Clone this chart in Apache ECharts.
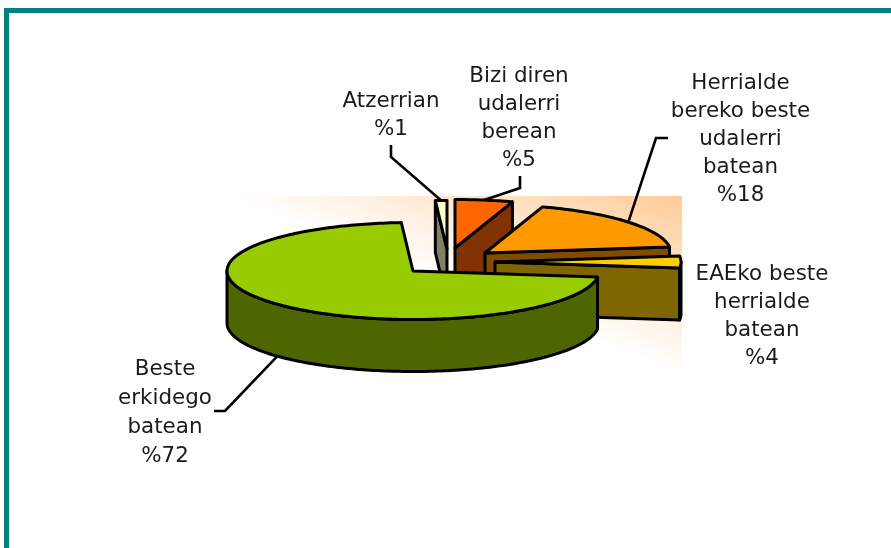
<!DOCTYPE html>
<html>
<head>
<meta charset="utf-8">
<style>html,body{margin:0;padding:0;background:#fff}#c{width:891px;height:548px}</style>
<script src="https://cdn.jsdelivr.net/npm/echarts@6/dist/echarts.min.js"></script>
</head>
<body>
<div id="c"></div>
<script>
// Data
const categories = ['Bizi diren\nudalerri\nberean', 'Herrialde\nbereko beste\nudalerri\nbatean', 'EAEko beste\nherrialde\nbatean', 'Beste\nerkidego\nbatean', 'Atzerrian'];
const values = [5, 18, 4, 72, 1];

// Styling
const topColors  = ['#FF6600', '#FF9900', '#FFCC00', '#99CC00', '#FFFFCC'];
const sideColors = ['#803300', '#804D00', '#806600', '#4D6600', '#808066'];

// Layout of the projected pie
const centre = [450, 262], rx = 186, ry = 48.5, depth = 52;
const explode = [[5, -14], [35, -9], [45, 0], [-37, 9], [-3, -13]];
const labelPos = [[519, 119, 28], [740.5, 140, 28], [762, 316.5, 27.7], [165, 413, 28.7], [391, 116, 28]];
const leaderElbows = [
  [[520, 176], [520, 188]],
  [[668, 138], [656, 138]],
  null,
  [[214, 411], [225, 411]],
  [[391, 145], [391, 157]]
];

const total = values.reduce((a, b) => a + b, 0);
const starts = [];
values.reduce((acc, v, i) => { starts[i] = acc; return acc + v; }, 0);
const rad = v => v / total * 2 * Math.PI;

function pt(apex, a, dz) {
  return [apex[0] + rx * Math.sin(a), apex[1] - ry * Math.cos(a) + (dz || 0)];
}
function arc(apex, a0, a1, dz) {
  const n = Math.max(2, Math.ceil(Math.abs(a1 - a0) / 0.02));
  const out = [];
  for (let k = 0; k <= n; k++) out.push(pt(apex, a0 + (a1 - a0) * k / n, dz));
  return out;
}
const edge = { stroke: '#000', lineWidth: 3, lineJoin: 'round' };
function poly(points, fill) {
  return { type: 'polygon', shape: { points }, style: Object.assign({ fill }, edge) };
}

function renderItem(params, api) {
  const i = api.value(0);
  const a0 = rad(starts[i]), a1 = rad(starts[i] + values[i]), mid = (a0 + a1) / 2;
  const apex = [centre[0] + explode[i][0], centre[1] + explode[i][1]];
  const low = [apex[0], apex[1] + depth];
  const children = [];

  // Cut faces that turn toward the viewer
  if (Math.sin(a0) < -1e-6) {
    const p = pt(apex, a0);
    children.push(poly([apex, p, [p[0], p[1] + depth], low], sideColors[i]));
  }
  if (Math.sin(a1) > 1e-6) {
    const p = pt(apex, a1);
    children.push(poly([apex, p, [p[0], p[1] + depth], low], sideColors[i]));
  }
  // Outer wall: only the front half of the rim
  const w0 = Math.max(a0, Math.PI / 2), w1 = Math.min(a1, 3 * Math.PI / 2);
  if (w1 > w0) {
    children.push(poly(arc(apex, w0, w1, 0).concat(arc(apex, w1, w0, depth)), sideColors[i]));
  }
  // Top face
  children.push(poly([apex].concat(arc(apex, a0, a1, 0)), topColors[i]));

  // Leader line, ending on the slice rim at its bisector
  if (leaderElbows[i]) {
    const front = Math.cos(mid) < 0;
    children.push({
      type: 'polyline',
      shape: { points: leaderElbows[i].concat([pt(apex, mid, front ? depth : 0)]) },
      style: { fill: null, stroke: '#000', lineWidth: 2.6, lineJoin: 'miter' }
    });
  }
  // Label
  children.push({
    type: 'text',
    x: labelPos[i][0], y: labelPos[i][1],
    scaleX: 1.02,
    style: {
      text: categories[i] + '\n%' + values[i],
      x: 0, y: 0,
      align: 'center', verticalAlign: 'middle',
      fill: '#1a1a1a', lineHeight: labelPos[i][2],
      fontSize: 21, fontFamily: '"DejaVu Sans", Verdana, sans-serif'
    }
  });
  return { type: 'group', children };
}

const chart = echarts.init(document.getElementById('c'), null, { renderer: 'canvas' });
chart.setOption({
  animation: false,
  backgroundColor: '#fff',
  graphic: [
    { type: 'rect', z: 0, shape: { x: 225, y: 196, width: 457, height: 179 },
      style: { fill: { type: 'linear', x: 682, y: 196, x2: 621, y2: 351, global: true,
        colorStops: [{ offset: 0, color: '#FFCC99' }, { offset: 1, color: '#FFFFFF' }] } } },
    { type: 'rect', z: 0, shape: { x: 4, y: 8, width: 887, height: 5 }, style: { fill: '#008080' } },
    { type: 'rect', z: 0, shape: { x: 4, y: 8, width: 5, height: 540 }, style: { fill: '#008080' } }
  ],
  series: [{
    type: 'custom',
    coordinateSystem: 'none',
    silent: true,
    z: 5,
    renderItem,
    // painter's order: back slices first
    data: [4, 0, 1, 2, 3].map(i => [i])
  }]
});
</script>
</body>
</html>
